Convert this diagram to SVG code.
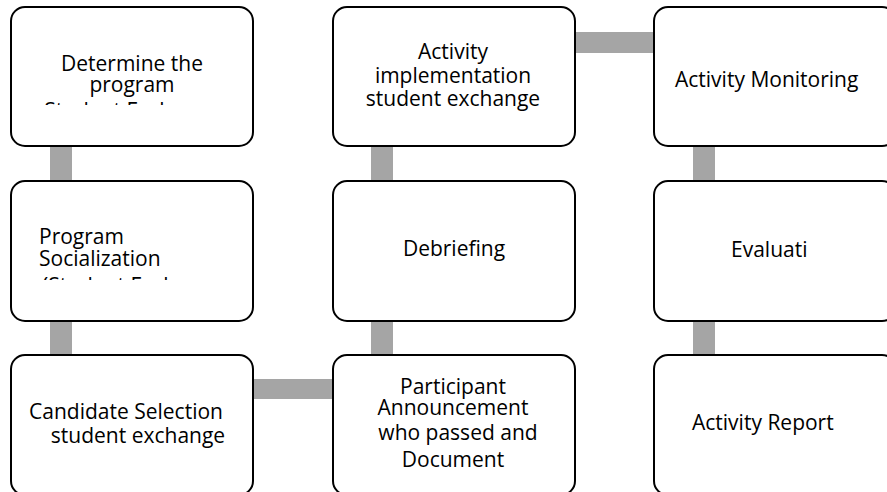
<svg xmlns="http://www.w3.org/2000/svg" width="887" height="492" viewBox="0 0 887 492">
  <style>
    .box { fill: #ffffff; stroke: #000000; stroke-width: 2; }
    .bar { fill: #a5a5a5; }
    text { font-family: "Open Sans", Lato, "Liberation Sans", sans-serif; font-size: 21px; fill: #000000; }
    .c { text-anchor: middle; }
  </style>
  <defs>
    <clipPath id="clip-n1"><rect x="11" y="7" width="242" height="98"/></clipPath>
    <clipPath id="clip-n2"><rect x="11" y="181" width="242" height="99"/></clipPath>
  </defs>
  <rect width="887" height="492" fill="#ffffff"/>

  <!-- connectors -->
  <g id="connectors">
    <rect class="bar" x="50" y="140" width="22" height="46"/>
    <rect class="bar" x="50" y="315" width="22" height="46"/>
    <rect class="bar" x="248" y="379" width="90" height="20"/>
    <rect class="bar" x="371" y="315" width="22" height="46"/>
    <rect class="bar" x="371" y="140" width="22" height="46"/>
    <rect class="bar" x="570" y="32" width="90" height="21"/>
    <rect class="bar" x="693" y="140" width="22" height="46"/>
    <rect class="bar" x="693" y="315" width="22" height="46"/>
  </g>

  <!-- column 1 -->
  <g id="n1">
    <rect class="box" x="11" y="7" width="242" height="139" rx="14"/>
    <g clip-path="url(#clip-n1)">
      <text class="c" x="132" y="71">Determine the</text>
      <text class="c" x="132" y="92">program</text>
      <text class="c" x="132" y="117.5">Student Exchange</text>
    </g>
  </g>
  <g id="n2">
    <rect class="box" x="11" y="181" width="242" height="140" rx="14"/>
    <g clip-path="url(#clip-n2)">
      <text x="39" y="244">Program</text>
      <text x="39" y="266">Socialization</text>
      <text x="42" y="292.5">(Student Exchange</text>
    </g>
  </g>
  <g id="n3">
    <rect class="box" x="11" y="355" width="242" height="140" rx="14"/>
    <text class="c" x="126" y="419">Candidate Selection</text>
    <text class="c" x="138" y="443">student exchange</text>
  </g>

  <!-- column 2 -->
  <g id="n4">
    <rect class="box" x="333" y="355" width="242" height="140" rx="14"/>
    <text class="c" x="453" y="394">Participant</text>
    <text class="c" x="453" y="415">Announcement</text>
    <text class="c" x="458" y="440">who passed and</text>
    <text class="c" x="453" y="467">Document</text>
  </g>
  <g id="n5">
    <rect class="box" x="333" y="181" width="242" height="140" rx="14"/>
    <text class="c" x="454" y="256">Debriefing</text>
  </g>
  <g id="n6">
    <rect class="box" x="333" y="7" width="242" height="139" rx="14"/>
    <text class="c" x="453" y="59">Activity</text>
    <text class="c" x="453" y="83">implementation</text>
    <text class="c" x="453" y="106">student exchange</text>
  </g>

  <!-- column 3 -->
  <g id="n7">
    <rect class="box" x="654" y="7" width="242" height="139" rx="14"/>
    <text x="675" y="87">Activity Monitoring</text>
  </g>
  <g id="n8">
    <rect class="box" x="654" y="181" width="242" height="140" rx="14"/>
    <text x="731" y="257">Evaluati</text>
  </g>
  <g id="n9">
    <rect class="box" x="654" y="355" width="242" height="140" rx="14"/>
    <text x="692" y="430">Activity Report</text>
  </g>
</svg>
